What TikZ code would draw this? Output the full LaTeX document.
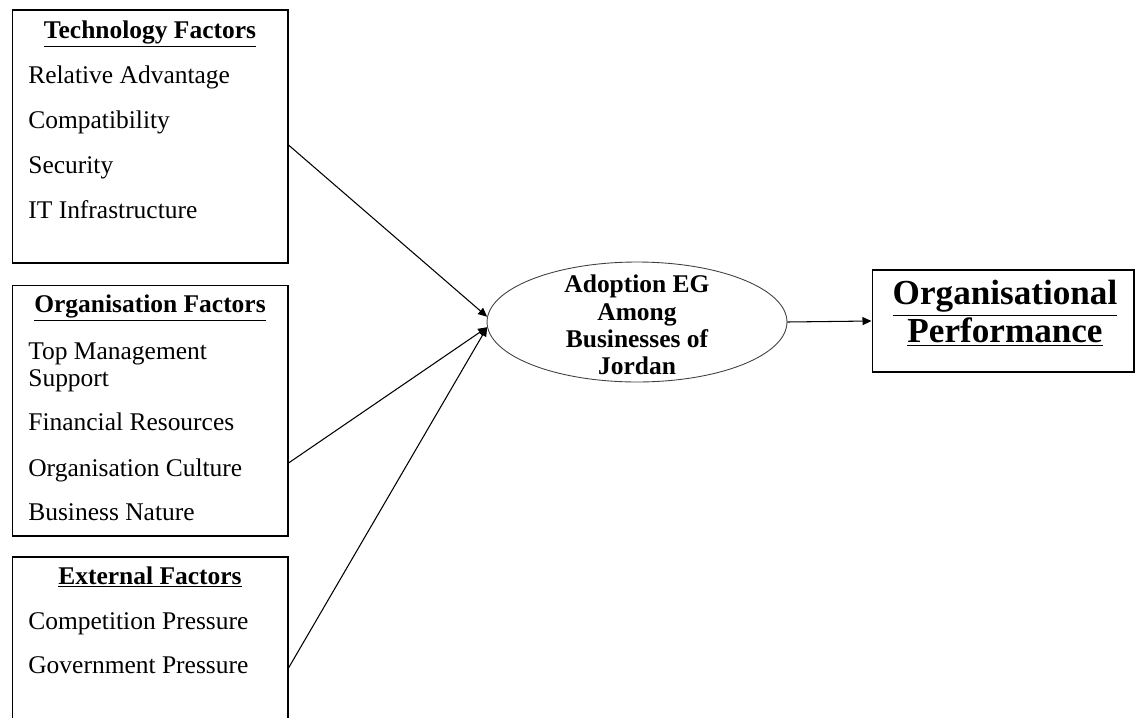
\documentclass[tikz,border=0pt]{standalone}
\usepackage{fontspec}
\setmainfont{Liberation Serif}
\usetikzlibrary{shapes.geometric,arrows.meta,positioning}

\begin{document}
\begin{tikzpicture}[x=0.02cm, y=-0.02cm,
    factorbox/.style={rectangle, draw, line width=0.6pt, minimum width=5.52cm, inner sep=0pt},
    heading/.style={anchor=base, font=\fontsize{14.5}{17}\selectfont\bfseries},
    item/.style={anchor=base west, inner sep=0pt, font=\fontsize{14.5}{17}\selectfont},
    arrow/.style={-{Triangle[length=0.18cm,width=0.16cm]}, line width=0.6pt}
]
\useasboundingbox (0,0) rectangle (1136,717);

% technology
\node[factorbox, minimum height=5.06cm] (techbox) at (150,136.5) {};
\node[heading] (techhead) at (150,38) {\underline{Technology Factors}};
\node[item] (reladv) at (28,83) {Relative Advantage};
\node[item] (compat) at (28,128) {Compatibility};
\node[item] (secur) at (28,173) {Security};
\node[item] (itinfra) at (28,218) {IT Infrastructure};

% organisation
\node[factorbox, minimum height=5.02cm] (orgbox) at (150,410.5) {};
\node[heading] (orghead) at (150,312) {\underline{Organisation Factors}};
\node[item] (topmgmt) at (28,359) {Top Management};
\node[item] (support) at (28,386) {Support};
\node[item] (finres) at (28,430) {Financial Resources};
\node[item] (orgcult) at (28,476) {Organisation Culture};
\node[item] (busnat) at (28,520) {Business Nature};

% external (runs past the bottom edge)
\node[factorbox, minimum height=3.6cm] (extbox) at (150,647) {};
\node[heading] (exthead) at (150,584) {\underline{External Factors}};
\node[item] (comppress) at (28,629) {Competition Pressure};
\node[item] (govpress) at (28,673) {Government Pressure};

\node[ellipse, draw=black!75, line width=0.5pt, minimum width=6cm, minimum height=2.4cm, inner sep=0pt] (adopt) at (637,322) {};
\node[align=center, font=\fontsize{14.5}{15.5}\selectfont\bfseries] (adopttext) at (637,325)
      {Adoption EG\\Among\\Businesses of\\Jordan};

\node[rectangle, draw, line width=0.6pt, minimum width=5.24cm, minimum height=2.04cm] (perfbox) at (1003,321) {};
\node[align=center, font=\fontsize{20}{19.8}\selectfont\bfseries] (perftext) at (1005,313.5)
      {\underline{Organisational}\\\underline{Performance}};

\coordinate (techout) at (techbox.east |- 0,145);
\coordinate (orgout) at (orgbox.east |- 0,463);
\coordinate (extout) at (extbox.east |- 0,668);

\draw[arrow] (techout) -- (adopt.178);
\draw[arrow] (orgout) -- (adopt.182);
\draw[arrow] (extout) -- (adopt.182);
\draw[arrow] (adopt.east) -- (perfbox.west);
\end{tikzpicture}
\end{document}
